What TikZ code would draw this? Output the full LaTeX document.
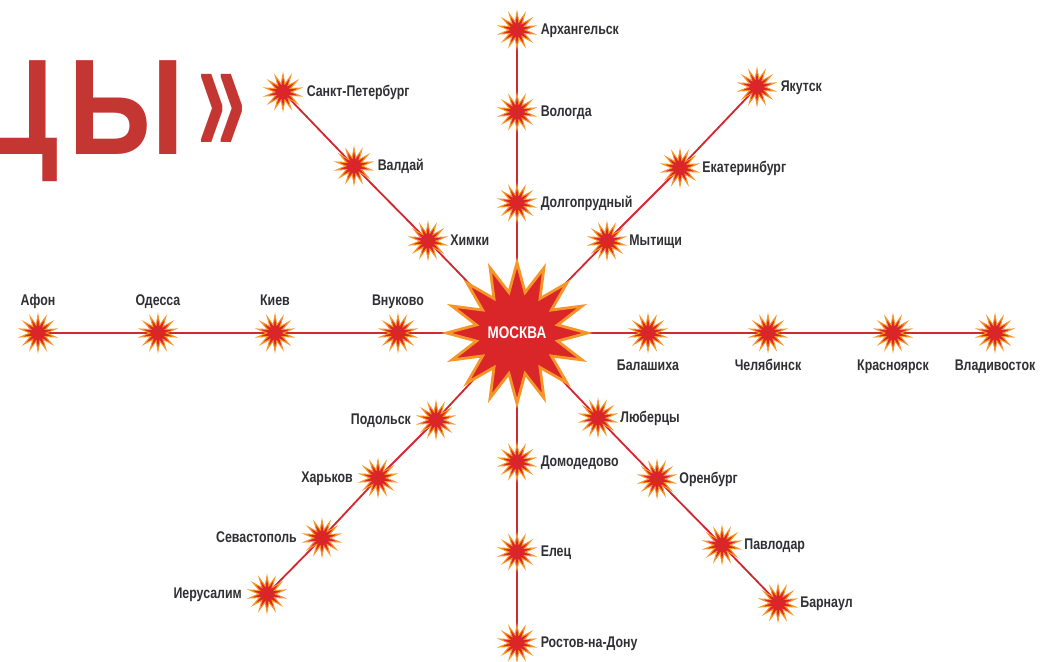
\documentclass[tikz,border=0pt]{standalone}
\usepackage{fontspec}
\setmainfont{Liberation Sans}
\newfontfamily\cityfont[FakeStretch=0.8]{Liberation Sans}
\newfontfamily\headfont[FakeStretch=0.87]{Liberation Sans}
\usepackage{xcolor}
\usepackage{graphicx}
\usepackage{tikz}
\usetikzlibrary{positioning, shapes.geometric, backgrounds}
\definecolor{starred}{RGB}{218,38,40}
\definecolor{starorange}{RGB}{246,150,40}
\definecolor{linered}{RGB}{212,40,48}
\definecolor{labelgray}{RGB}{48,48,52}
\definecolor{titlered}{RGB}{196,54,50}

\begin{document}
\begin{tikzpicture}[
  x=0.025cm, y=-0.025cm,
  font=\cityfont\bfseries\fontsize{11}{13}\selectfont,
  city/.style={star,star points=14,star point ratio=2.2,minimum size=0.9cm,inner sep=0pt,fill=starred,draw=starorange,line width=0.7pt},
  hub/.style={star,star points=16,star point ratio=1.7,minimum size=3.05cm,inner sep=0pt,fill=starred,draw=starorange,line width=2pt,text=white,font=\cityfont\bfseries\fontsize{12}{14}\selectfont},
  cityname/.style={text=labelgray,inner sep=1pt,text height=1.5ex,text depth=.3ex},
  headline/.style={text=titlered,inner sep=0pt,font=\headfont\bfseries\fontsize{97}{100}\selectfont},
  link/.style={draw=linered,line width=1.3pt}
]
\useasboundingbox (0,0) rectangle (1040,662);
\node[headline,anchor=base east] (ttl) at (247,155) {Ц\kern8ptЫ\kern9pt\scalebox{0.74}[1.28]{»}};
% hub
\node[hub] (msk) at (517,333) {МОСКВА};
% north
\node[city] (dlg) at (517,203) {};
\node[city] (vol) at (517,112) {};
\node[city] (arh) at (517,30) {};
% south
\node[city] (dmd) at (517,462) {};
\node[city] (elc) at (517,552) {};
\node[city] (rst) at (517,643) {};
% west
\node[city] (vnk) at (398,333) {};
\node[city] (kiev) at (275,333) {};
\node[city] (ods) at (158,333) {};
\node[city] (afn) at (38,333) {};
% east
\node[city] (bal) at (648,333) {};
\node[city] (chl) at (768,333) {};
\node[city] (krs) at (893,333) {};
\node[city] (vlad) at (995,333) {};
% north-west
\node[city] (khm) at (428,241) {};
\node[city] (valdai) at (354,166) {};
\node[city] (spb) at (283,92) {};
% north-east
\node[city] (myt) at (607,241) {};
\node[city] (ekb) at (680,168) {};
\node[city] (yak) at (757,87) {};
% south-east
\node[city] (lub) at (598,418) {};
\node[city] (orb) at (657,479) {};
\node[city] (pvl) at (722,545) {};
\node[city] (brn) at (778,603) {};
% south-west
\node[city] (pod) at (436,420) {};
\node[city] (khr) at (378,478) {};
\node[city] (sev) at (322,538) {};
\node[city] (ier) at (267,594) {};
% labels
\node[cityname,right=9pt of arh] (arh-l) {Архангельск};
\node[cityname,right=9pt of vol] (vol-l) {Вологда};
\node[cityname,right=9pt of dlg] (dlg-l) {Долгопрудный};
\node[cityname,right=9pt of dmd] (dmd-l) {Домодедово};
\node[cityname,right=9pt of elc] (elc-l) {Елец};
\node[cityname,right=9pt of rst] (rst-l) {Ростов-на-Дону};
\node[cityname,above=2pt of vnk] (vnk-l) {Внуково};
\node[cityname,above=2pt of kiev] (kiev-l) {Киев};
\node[cityname,above=2pt of ods] (ods-l) {Одесса};
\node[cityname,above=2pt of afn] (afn-l) {Афон};
\node[cityname,below=3pt of bal] (bal-l) {Балашиха};
\node[cityname,below=3pt of chl] (chl-l) {Челябинск};
\node[cityname,below=3pt of krs] (krs-l) {Красноярск};
\node[cityname,below=3pt of vlad] (vlad-l) {Владивосток};
\node[cityname,right=8pt of khm] (khm-l) {Химки};
\node[cityname,right=9pt of valdai] (valdai-l) {Валдай};
\node[cityname,right=9pt of spb] (spb-l) {Санкт-Петербург};
\node[cityname,right=8pt of myt] (myt-l) {Мытищи};
\node[cityname,right=8pt of ekb] (ekb-l) {Екатеринбург};
\node[cityname,right=9pt of yak] (yak-l) {Якутск};
\node[cityname,right=8pt of lub] (lub-l) {Люберцы};
\node[cityname,right=8pt of orb] (orb-l) {Оренбург};
\node[cityname,right=8pt of pvl] (pvl-l) {Павлодар};
\node[cityname,right=8pt of brn] (brn-l) {Барнаул};
\node[cityname,left=10pt of pod] (pod-l) {Подольск};
\node[cityname,left=10pt of khr] (khr-l) {Харьков};
\node[cityname,left=10pt of sev] (sev-l) {Севастополь};
\node[cityname,left=10pt of ier] (ier-l) {Иерусалим};
% spokes
\begin{scope}[on background layer]
\draw[link] (msk.center) -- (dlg.center) -- (vol.center) -- (arh.center);
\draw[link] (msk.center) -- (dmd.center) -- (elc.center) -- (rst.center);
\draw[link] (msk.center) -- (vnk.center) -- (kiev.center) -- (ods.center) -- (afn.center);
\draw[link] (msk.center) -- (bal.center) -- (chl.center) -- (krs.center) -- (vlad.center);
\draw[link] (msk.center) -- (khm.center) -- (valdai.center) -- (spb.center);
\draw[link] (msk.center) -- (myt.center) -- (ekb.center) -- (yak.center);
\draw[link] (msk.center) -- (lub.center) -- (orb.center) -- (pvl.center) -- (brn.center);
\draw[link] (msk.center) -- (pod.center) -- (khr.center) -- (sev.center) -- (ier.center);
\end{scope}
\end{tikzpicture}
\end{document}
